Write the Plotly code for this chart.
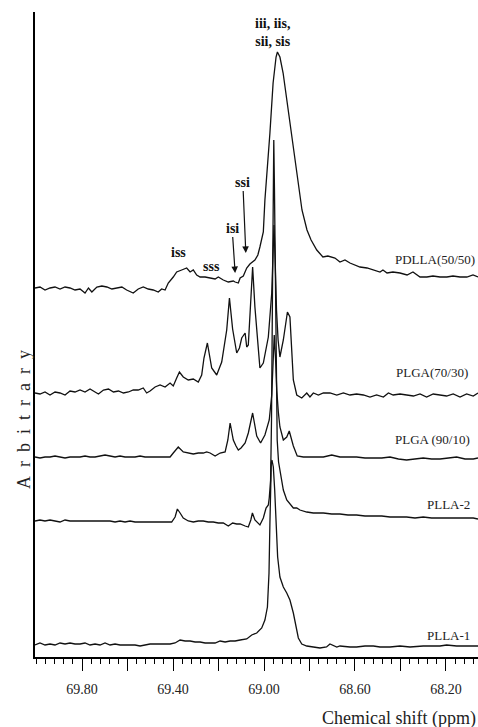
import plotly.graph_objects as go

# ---- data: (chemical shift ppm, intensity in arbitrary units) ----
PDLLA_50_50 = [
    (70.007, 369), (69.985, 370), (69.963, 367), (69.941, 369), (69.919, 370), (69.897, 368),
    (69.875, 370), (69.853, 369), (69.831, 367), (69.809, 368), (69.787, 364), (69.772, 369),
    (69.757, 365), (69.735, 370), (69.713, 371), (69.691, 370), (69.669, 368), (69.647, 369),
    (69.625, 370), (69.604, 367), (69.575, 364), (69.553, 368), (69.531, 370), (69.509, 368),
    (69.487, 367), (69.465, 365), (69.450, 368), (69.435, 367), (69.421, 374), (69.399, 380),
    (69.384, 385), (69.362, 387), (69.340, 389), (69.325, 385), (69.311, 387), (69.296, 382),
    (69.281, 380), (69.259, 380), (69.237, 379), (69.215, 378), (69.201, 380), (69.179, 377),
    (69.157, 375), (69.135, 376), (69.127, 375), (69.113, 374), (69.105, 379), (69.091, 381),
    (69.076, 389), (69.062, 393), (69.040, 397), (69.027, 402), (69.018, 410), (69.003, 425),
    (68.996, 457), (68.985, 487), (68.974, 524), (68.960, 574), (68.947, 600), (68.941, 605),
    (68.930, 600), (68.916, 584), (68.899, 557), (68.877, 517), (68.855, 484), (68.833, 447),
    (68.811, 427), (68.793, 417), (68.768, 407), (68.741, 400), (68.719, 401), (68.688, 399),
    (68.666, 395), (68.644, 397), (68.622, 394), (68.600, 392), (68.578, 390), (68.547, 389),
    (68.521, 387), (68.490, 385), (68.477, 387), (68.459, 384), (68.433, 385), (68.402, 384),
    (68.371, 382), (68.345, 385), (68.314, 380), (68.284, 380), (68.257, 381), (68.226, 380),
    (68.196, 380), (68.169, 381), (68.138, 380), (68.108, 380), (68.081, 382), (68.059, 380),
]

PLGA_70_30 = [
    (70.007, 264), (69.985, 263), (69.963, 265), (69.941, 262), (69.919, 265), (69.897, 264),
    (69.875, 262), (69.853, 266), (69.831, 265), (69.809, 267), (69.787, 265), (69.765, 268),
    (69.743, 265), (69.728, 263), (69.706, 267), (69.684, 268), (69.662, 265), (69.640, 266),
    (69.618, 264), (69.596, 265), (69.575, 267), (69.553, 267), (69.531, 269), (69.516, 264),
    (69.501, 266), (69.479, 270), (69.457, 272), (69.435, 270), (69.413, 274), (69.399, 271),
    (69.384, 279), (69.372, 285), (69.355, 280), (69.333, 277), (69.311, 278), (69.289, 275),
    (69.274, 282), (69.264, 299), (69.249, 314), (69.230, 289), (69.208, 282), (69.186, 295),
    (69.164, 327), (69.152, 359), (69.138, 328), (69.120, 304), (69.108, 309), (69.098, 319),
    (69.083, 324), (69.076, 310), (69.069, 312), (69.059, 357), (69.050, 390), (69.040, 350),
    (69.025, 304), (69.018, 289), (69.003, 294), (68.981, 320), (68.966, 364), (68.960, 402),
    (68.956, 432), (68.951, 397), (68.945, 347), (68.938, 317), (68.930, 300), (68.915, 317),
    (68.905, 335), (68.897, 345), (68.886, 340), (68.878, 300), (68.871, 277), (68.856, 262),
    (68.834, 259), (68.812, 264), (68.798, 260), (68.783, 264), (68.761, 262), (68.739, 264),
    (68.710, 264), (68.680, 262), (68.651, 264), (68.622, 262), (68.593, 263), (68.563, 262),
    (68.534, 260), (68.505, 262), (68.475, 260), (68.453, 264), (68.432, 262), (68.402, 263),
    (68.373, 262), (68.343, 261), (68.314, 263), (68.285, 260), (68.256, 263), (68.226, 262),
    (68.197, 261), (68.168, 263), (68.138, 260), (68.109, 263), (68.080, 261), (68.059, 264),
]

PLGA_90_10 = [
    (70.007, 200), (69.985, 199), (69.963, 200), (69.941, 200), (69.919, 201), (69.897, 200),
    (69.875, 199), (69.853, 200), (69.831, 200), (69.809, 200), (69.787, 201), (69.765, 200),
    (69.743, 200), (69.721, 201), (69.699, 202), (69.677, 201), (69.655, 200), (69.633, 201),
    (69.611, 200), (69.589, 200), (69.567, 200), (69.545, 201), (69.523, 200), (69.501, 200),
    (69.479, 200), (69.457, 200), (69.435, 200), (69.413, 200), (69.399, 204), (69.377, 210),
    (69.355, 205), (69.333, 204), (69.311, 203), (69.289, 204), (69.267, 204), (69.252, 205),
    (69.237, 204), (69.215, 201), (69.193, 204), (69.171, 205), (69.159, 217), (69.149, 234),
    (69.135, 217), (69.123, 211), (69.113, 207), (69.101, 209), (69.083, 214), (69.069, 224),
    (69.050, 244), (69.032, 221), (69.015, 214), (68.996, 222), (68.977, 237), (68.966, 262),
    (68.960, 297), (68.955, 322), (68.949, 297), (68.944, 267), (68.937, 245), (68.930, 230),
    (68.915, 217), (68.900, 220), (68.889, 226), (68.871, 211), (68.854, 201), (68.827, 200),
    (68.798, 200), (68.768, 200), (68.739, 200), (68.702, 202), (68.666, 200), (68.629, 200),
    (68.593, 200), (68.556, 199), (68.519, 199), (68.482, 199), (68.446, 200), (68.409, 198),
    (68.373, 197), (68.336, 198), (68.300, 199), (68.263, 198), (68.226, 198), (68.189, 199),
    (68.153, 200), (68.116, 198), (68.080, 198), (68.059, 199),
]

PLLA_2 = [
    (70.007, 136), (69.985, 137), (69.963, 136), (69.941, 137), (69.919, 136), (69.897, 135),
    (69.875, 137), (69.853, 136), (69.831, 136), (69.809, 136), (69.787, 136), (69.765, 136),
    (69.743, 136), (69.721, 136), (69.699, 136), (69.677, 136), (69.655, 135), (69.633, 136),
    (69.611, 135), (69.589, 136), (69.567, 135), (69.545, 135), (69.523, 135), (69.501, 135),
    (69.479, 135), (69.457, 135), (69.427, 135), (69.406, 135), (69.391, 140), (69.381, 148),
    (69.369, 144), (69.355, 139), (69.333, 136), (69.311, 135), (69.289, 136), (69.267, 136),
    (69.245, 135), (69.223, 135), (69.201, 134), (69.179, 134), (69.157, 131), (69.138, 134),
    (69.120, 133), (69.105, 133), (69.083, 131), (69.069, 130), (69.058, 137), (69.051, 144),
    (69.040, 137), (69.018, 132), (69.003, 139), (68.991, 149), (68.981, 152), (68.977, 159),
    (68.971, 177), (68.967, 237), (68.963, 357), (68.960, 457), (68.957, 517), (68.954, 467),
    (68.950, 377), (68.946, 277), (68.942, 217), (68.936, 195), (68.930, 187), (68.922, 177),
    (68.915, 167), (68.900, 157), (68.893, 155), (68.871, 149), (68.856, 149), (68.842, 147),
    (68.812, 145), (68.783, 144), (68.739, 144), (68.702, 143), (68.666, 143), (68.631, 142),
    (68.593, 142), (68.556, 141), (68.519, 141), (68.482, 141), (68.446, 140), (68.409, 140),
    (68.373, 140), (68.336, 139), (68.300, 140), (68.263, 139), (68.226, 139), (68.189, 139),
    (68.153, 139), (68.116, 139), (68.080, 139), (68.059, 138),
]

PLLA_1 = [
    (70.007, 12), (69.985, 14), (69.963, 12), (69.941, 13), (69.919, 12), (69.897, 14),
    (69.875, 13), (69.853, 14), (69.831, 13), (69.809, 13), (69.787, 14), (69.765, 12),
    (69.743, 13), (69.721, 12), (69.699, 14), (69.677, 12), (69.655, 13), (69.633, 12),
    (69.611, 12), (69.589, 12), (69.567, 12), (69.545, 11), (69.523, 12), (69.501, 13),
    (69.479, 13), (69.457, 13), (69.435, 13), (69.413, 13), (69.391, 14), (69.369, 17),
    (69.347, 16), (69.325, 16), (69.303, 15), (69.281, 15), (69.259, 14), (69.237, 14),
    (69.215, 14), (69.193, 16), (69.171, 15), (69.149, 16), (69.127, 16), (69.105, 17),
    (69.076, 18), (69.054, 22), (69.032, 24), (69.010, 29), (68.996, 37), (68.985, 50),
    (68.978, 84), (68.974, 134), (68.971, 174), (68.968, 194), (68.965, 197), (68.959, 190),
    (68.953, 167), (68.947, 134), (68.940, 100), (68.930, 80), (68.915, 70), (68.900, 64),
    (68.886, 57), (68.871, 44), (68.859, 30), (68.849, 19), (68.834, 13), (68.812, 11),
    (68.783, 10), (68.754, 9), (68.725, 10), (68.710, 13), (68.680, 10), (68.666, 11),
    (68.622, 10), (68.593, 10), (68.556, 11), (68.519, 11), (68.490, 10), (68.446, 10),
    (68.402, 11), (68.358, 10), (68.300, 11), (68.262, 11), (68.226, 11), (68.197, 12),
    (68.153, 11), (68.116, 11), (68.080, 11), (68.059, 11),
]

SERIES = [PDLLA_50_50, PLGA_70_30, PLGA_90_10, PLLA_2, PLLA_1]
SAMPLE_LABELS = ["PDLLA(50/50)", "PLGA(70/30)", "PLGA (90/10)", "PLLA-2", "PLLA-1"]
TICK_VALUES = [69.80, 69.60, 69.40, 69.20, 69.00, 68.80, 68.60, 68.40, 68.20]
TICK_LABELS = ["69.80", "", "69.40", "", "69.00", "", "68.60", "", "68.20"]

SERIF = "Liberation Serif, Times New Roman, serif"
INK = "#111111"

fig = go.Figure()
for data in SERIES:
    fig.add_trace(go.Scatter(
        x=[p for p, _ in data], y=[v for _, v in data], mode="lines",
        line=dict(color=INK, width=1.3), showlegend=False, hoverinfo="skip",
    ))

annotations = []
label_pos = [(68.433, 398), (68.429, 285), (68.433, 218), (68.292, 153), (68.292, 22)]
for text, (lx, ly) in zip(SAMPLE_LABELS, label_pos):
    annotations.append(dict(x=lx, y=ly, xref="x", yref="y", text=text, showarrow=False,
                            xanchor="left", yanchor="middle",
                            font=dict(family=SERIF, size=13, color="#222")))

bold = dict(family=SERIF, size=14, color=INK)
annotations += [
    dict(x=68.960, y=625, xref="x", yref="y", text="<b>iii, iis,<br>sii, sis</b>",
         showarrow=False, font=bold, align="center", xanchor="center", yanchor="middle"),
    dict(x=69.378, y=405, xref="x", yref="y", text="<b>iss</b>", showarrow=False, font=bold,
         xanchor="center", yanchor="middle"),
    dict(x=69.229, y=391, xref="x", yref="y", text="<b>sss</b>", showarrow=False, font=bold,
         xanchor="center", yanchor="middle"),
    dict(x=69.127, y=384, xref="x", yref="y", text="<b>isi</b>", showarrow=True,
         ax=-3, ay=-45, arrowhead=2, arrowsize=1.1, arrowwidth=1.2, arrowcolor=INK, font=bold),
    dict(x=69.080, y=404, xref="x", yref="y", text="<b>ssi</b>", showarrow=True,
         ax=-3, ay=-71, arrowhead=2, arrowsize=1.1, arrowwidth=1.2, arrowcolor=INK, font=bold),
    dict(x=-0.025, y=0.369, xref="paper", yref="paper",
         text="\u00a0\u00a0".join("Arbitrary"), textangle=-90, showarrow=False,
         xanchor="center", yanchor="middle",
         font=dict(family=SERIF, size=18, color="#222")),
    dict(x=0.643, y=-0.0961, xref="paper", yref="paper", text="Chemical shift (ppm)",
         showarrow=False, xanchor="left", yanchor="middle",
         font=dict(family=SERIF, size=18, color="#222")),
]

fig.update_layout(
    width=478, height=727,
    margin=dict(l=35, r=0, t=12, b=70),
    paper_bgcolor="white", plot_bgcolor="white",
    annotations=annotations,
    xaxis=dict(
        range=[70.007, 68.059], showline=True, linewidth=2, linecolor="black",
        showgrid=False, zeroline=False,
        tickmode="array", tickvals=TICK_VALUES, ticktext=TICK_LABELS,
        ticks="outside", ticklen=12, tickwidth=1, tickcolor="black",
        ticklabelstandoff=6,
        tickfont=dict(family=SERIF, size=14, color="#222"),
        minor=dict(tickmode="linear", tick0=68.0, dtick=0.04, ticks="outside",
                   ticklen=5, tickwidth=1, tickcolor="black"),
    ),
    yaxis=dict(
        range=[0, 645], showline=True, linewidth=2, linecolor="black",
        showgrid=False, zeroline=False, showticklabels=False, ticks="",
    ),
)

fig.write_html(
    "out.html",
    config={"displayModeBar": False},
    post_script="document.body.style.margin='0';document.body.style.overflow='hidden';",
)
